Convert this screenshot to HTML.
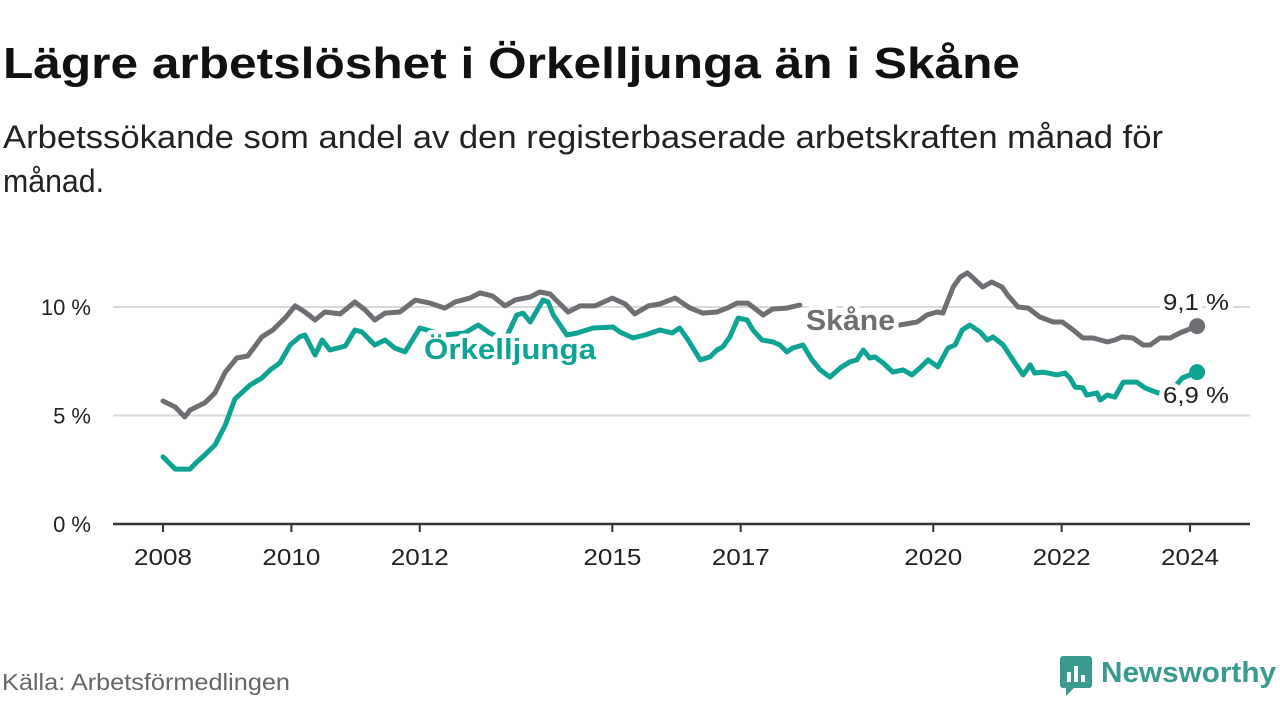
<!DOCTYPE html>
<html><head><meta charset="utf-8"><style>
html,body{margin:0;padding:0;background:#fff;width:1280px;height:720px;overflow:hidden;font-family:"Liberation Sans",sans-serif}
</style></head><body>
<svg id="chart" width="1280" height="720" xmlns="http://www.w3.org/2000/svg" font-family="Liberation Sans, sans-serif">
<text x="3" y="78" font-size="44" font-weight="bold" fill="#111" textLength="1017" lengthAdjust="spacingAndGlyphs">Lägre arbetslöshet i Örkelljunga än i Skåne</text>
<text x="3" y="148" font-size="32" fill="#222" textLength="1160" lengthAdjust="spacingAndGlyphs">Arbetssökande som andel av den registerbaserade arbetskraften månad för</text>
<text x="3" y="192" font-size="32" fill="#222" textLength="101" lengthAdjust="spacingAndGlyphs">månad.</text>
<g id="grid"></g>
<g id="yaxis"></g>
<g id="xaxis"></g>
<g id="series"></g>
<g id="labels"></g>
<text x="2" y="690" font-size="23" fill="#666" textLength="288" lengthAdjust="spacingAndGlyphs">Källa: Arbetsförmedlingen</text>
<g>
<rect x="1060" y="656" width="32" height="32" rx="3" fill="#3a9a90"/>
<rect x="1067" y="672" width="4" height="10" fill="#fff"/>
<rect x="1074" y="666" width="4" height="16" fill="#fff"/>
<rect x="1081" y="675" width="4" height="7" fill="#fff"/>
<polygon points="1066,688 1074,688 1066,696" fill="#3a9a90"/>
<text x="1101" y="682" font-size="29" font-weight="bold" fill="#3a9a90" textLength="175" lengthAdjust="spacingAndGlyphs">Newsworthy</text>
</g>
</svg>
<script>
const yTicks=[0,5,10];
const yTickLabels=["0 %","5 %","10 %"];
const xTicks=[2008,2010,2012,2015,2017,2020,2022,2024];
const skaneDates=[2008.00,2008.19,2008.34,2008.42,2008.65,2008.81,2008.97,2009.15,2009.32,2009.54,2009.71,2009.90,2010.06,2010.21,2010.37,2010.52,2010.76,2010.99,2011.15,2011.30,2011.46,2011.69,2011.93,2012.16,2012.39,2012.55,2012.78,2012.94,2013.13,2013.33,2013.48,2013.72,2013.87,2014.03,2014.31,2014.50,2014.73,2015.00,2015.20,2015.35,2015.56,2015.74,2015.98,2016.21,2016.41,2016.63,2016.79,2016.94,2017.11,2017.25,2017.35,2017.50,2017.72,2017.92,2019.48,2019.75,2019.90,2020.06,2020.15,2020.31,2020.42,2020.53,2020.62,2020.77,2020.91,2021.07,2021.16,2021.32,2021.48,2021.66,2021.87,2022.01,2022.18,2022.33,2022.49,2022.71,2022.83,2022.94,2023.11,2023.27,2023.38,2023.53,2023.69,2023.84,2024.11];
const skaneValues=[5.67,5.39,4.93,5.25,5.58,6.04,7.00,7.65,7.74,8.62,8.94,9.49,10.05,9.77,9.40,9.77,9.68,10.23,9.86,9.40,9.72,9.77,10.32,10.18,9.95,10.23,10.41,10.65,10.51,10.05,10.32,10.46,10.69,10.60,9.77,10.05,10.05,10.41,10.14,9.68,10.05,10.14,10.41,9.95,9.72,9.77,9.95,10.18,10.18,9.86,9.63,9.91,9.95,10.09,9.17,9.31,9.63,9.77,9.72,10.92,11.38,11.57,11.34,10.92,11.15,10.92,10.55,10.00,9.95,9.54,9.31,9.31,8.94,8.57,8.57,8.39,8.48,8.62,8.57,8.25,8.25,8.57,8.57,8.80,9.12];
const orkDates=[2008.00,2008.19,2008.42,2008.53,2008.65,2008.81,2008.97,2009.12,2009.36,2009.54,2009.67,2009.82,2009.98,2010.13,2010.21,2010.37,2010.48,2010.60,2010.84,2010.99,2011.10,2011.30,2011.46,2011.61,2011.77,2012.00,2012.39,2012.70,2012.91,2013.09,2013.33,2013.51,2013.61,2013.72,2013.92,2014.00,2014.08,2014.29,2014.45,2014.70,2015.01,2015.12,2015.32,2015.51,2015.74,2015.93,2016.05,2016.18,2016.37,2016.52,2016.63,2016.72,2016.83,2016.96,2017.10,2017.19,2017.33,2017.50,2017.61,2017.72,2017.81,2017.97,2018.11,2018.24,2018.39,2018.55,2018.70,2018.81,2018.91,2019.01,2019.09,2019.22,2019.37,2019.53,2019.67,2019.79,2019.92,2020.07,2020.23,2020.34,2020.45,2020.57,2020.73,2020.84,2020.93,2021.09,2021.24,2021.40,2021.51,2021.58,2021.71,2021.93,2022.05,2022.13,2022.21,2022.33,2022.39,2022.55,2022.60,2022.71,2022.83,2022.96,2023.17,2023.30,2023.50,2023.69,2023.88,2024.11];
const orkValues=[3.09,2.53,2.53,2.86,3.18,3.64,4.56,5.76,6.41,6.73,7.10,7.42,8.25,8.62,8.71,7.79,8.48,8.02,8.20,8.94,8.85,8.25,8.48,8.11,7.93,9.03,8.71,8.80,9.17,8.80,8.48,9.63,9.72,9.31,10.32,10.23,9.63,8.71,8.80,9.03,9.08,8.85,8.57,8.71,8.94,8.80,9.03,8.48,7.56,7.70,8.02,8.16,8.62,9.49,9.40,8.94,8.48,8.39,8.25,7.93,8.11,8.25,7.56,7.10,6.77,7.19,7.47,7.56,8.02,7.65,7.70,7.42,7.00,7.10,6.87,7.19,7.56,7.24,8.11,8.25,8.94,9.17,8.85,8.48,8.62,8.25,7.56,6.87,7.33,6.96,7.00,6.87,6.96,6.73,6.31,6.27,5.94,6.04,5.71,5.94,5.85,6.54,6.54,6.27,6.04,6.08,6.73,7.00];
const lastLabels=["9,1 %","6,9 %"];

const NS="http://www.w3.org/2000/svg";
const x=v=>163+(v-2008)*64.19;
const y=v=>524-v*21.7;
function mk(tag,attrs,parent){const e=document.createElementNS(NS,tag);for(const k in attrs)e.setAttribute(k,attrs[k]);parent.appendChild(e);return e;}
const grid=document.getElementById('grid'),ya=document.getElementById('yaxis'),xa=document.getElementById('xaxis'),se=document.getElementById('series'),lb=document.getElementById('labels');
yTicks.forEach((t,i)=>{
 if(t>0){const l=mk('line',{x1:113,x2:1250,y1:y(t),y2:y(t),stroke:'#d9d9d9','stroke-width':2},grid);
 
 }
 const tx=mk('text',{x:91,y:y(t)+8,'text-anchor':'end','font-size':22,fill:'#222'},ya);
 
 
 tx.textContent=yTickLabels[i];
});
const ax=mk('line',{x1:113,x2:1250,y1:y(0),y2:y(0),stroke:'#333','stroke-width':2.5},xa);


xTicks.forEach(t=>{
 const tk=mk('line',{x1:x(t),x2:x(t),y1:y(0),y2:y(0)+8,stroke:'#333','stroke-width':2},xa);
 
 
 const tx=mk('text',{x:x(t),y:565,'text-anchor':'middle','font-size':23,fill:'#222','textLength':58,'lengthAdjust':'spacingAndGlyphs'},xa);
 
 
 tx.textContent=t;
});
function line(d,v,color,name){
 let s='';
 d.forEach((t,i)=>{const brk=i===0||d[i]-d[i-1]>0.8;s+=(brk?'M':'L')+x(t).toFixed(1)+','+y(v[i]).toFixed(1);});
 const p=mk('path',{d:s,fill:'none',stroke:color,'stroke-width':5,'stroke-linejoin':'round','stroke-linecap':'round'},se);
 
 
 const n=d.length-1;
 const c=mk('circle',{cx:x(d[n]),cy:y(v[n]),r:8,fill:color},se);
 
 
}
line(skaneDates,skaneValues,'#6f6f73','skane-line');
line(orkDates,orkValues,'#0fa394','orkelljunga-line');
function label(txt,xx,yy,size,color,weight,name,len){
 const t=mk('text',{x:xx,y:yy,'font-size':size,fill:color,'font-weight':weight,stroke:'#fff','stroke-width':9,'paint-order':'stroke','stroke-linejoin':'round',textLength:len,lengthAdjust:'spacingAndGlyphs'},lb);
 
 
 t.textContent=txt;
}
label('Örkelljunga',424,359,29,'#0fa394','bold','orkelljunga-label',172);
label('Skåne',806,330,29,'#6f6f73','bold','skane-label',89);
label(lastLabels[0],1163,310,23,'#222','normal','skane-last-value',66);
label(lastLabels[1],1163,403,23,'#222','normal','orkelljunga-last-value',66);
</script>
</body></html>
